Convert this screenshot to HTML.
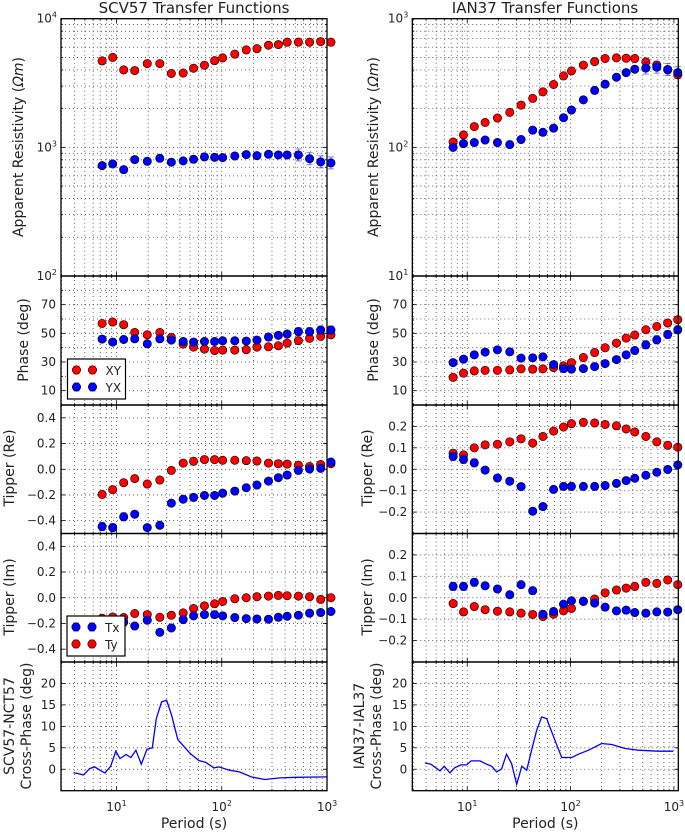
<!DOCTYPE html>
<html><head><meta charset="utf-8"><style>
html,body{margin:0;padding:0;background:#fff;}
svg{display:block;font-family:"DejaVu Sans","Liberation Sans",sans-serif;}
</style></head><body>
<svg id="fig" width="685" height="832" viewBox="0 0 685 832" xmlns="http://www.w3.org/2000/svg"></svg>
<script>
// ---------- data ----------
const periods = [7.3,9.2,11.7,14.9,19.6,25.8,33.2,43,54,68.5,85.5,102,133,171,216,278,345,418,535,683,871,1090];
const scvRhoXY = [4700,5000,4000,3950,4480,4480,3750,3780,4120,4350,4720,4960,5300,5720,5850,6220,6290,6570,6570,6570,6640,6570];
const scvRhoYX = [721,743,671,803,779,822,766,785,808,843,836,832,857,878,862,883,873,873,873,817,771,757];
const scvPhXY = [56.9,57.9,56,50.6,49,50.6,47.1,42.5,40.4,39,38,38.3,38.3,38.6,40.4,40.6,41.3,43.2,44.9,46.5,47.9,49];
const scvPhYX = [46,43.9,45.7,46.2,42.7,46.2,45.3,44.3,43.9,44.3,44.3,44.8,44.8,44.6,45.3,47.4,48.6,49.5,51.2,51.2,52.3,52.3];
const scvReTy = [-0.196,-0.159,-0.105,-0.073,-0.115,-0.084,-0.009,0.048,0.062,0.075,0.075,0.07,0.07,0.067,0.064,0.048,0.043,0.04,0.032,0.021,0.037,0.043];
const scvReTx = [-0.446,-0.454,-0.37,-0.35,-0.454,-0.436,-0.264,-0.233,-0.219,-0.204,-0.204,-0.186,-0.17,-0.144,-0.123,-0.092,-0.066,-0.045,-0.009,0.002,0.007,0.056];
const scvImTy = [-0.16,-0.15,-0.154,-0.123,-0.131,-0.152,-0.136,-0.118,-0.084,-0.063,-0.047,-0.029,-0.008,0,0.008,0.013,0.018,0.016,0.013,0.008,-0.013,0];
const scvImTx = [-0.2,-0.2,-0.19,-0.22,-0.175,-0.269,-0.235,-0.17,-0.141,-0.131,-0.131,-0.141,-0.154,-0.162,-0.165,-0.167,-0.152,-0.144,-0.136,-0.12,-0.115,-0.107];
const ianRhoXY = [110,125,145,156,169,187,213,240,270,308,359,393,436,464,490,496,493,490,462,436,400,366];
const ianRhoYX = [100,107,109,114,109,105,115,136,131,141,170,195,234,277,310,351,381,405,413,420,403,381];
const ianPhXY = [19.3,22.2,23.8,24.2,24.2,24.5,25.2,25,25.2,26.1,27.3,29.6,33.1,36.6,39.9,43.2,46.7,48.8,52.5,54.8,57.2,59.5];
const ianPhYX = [29.6,32,35,36.9,38.5,37.1,32.7,32.9,33.6,28.2,25.4,25,25.4,26.8,28.9,31.7,35,38,42,45.5,49.2,52.5];
const ianReTy = [0.075,0.067,0.1,0.114,0.117,0.128,0.142,0.122,0.153,0.178,0.197,0.213,0.219,0.216,0.209,0.203,0.188,0.174,0.153,0.128,0.112,0.103];
const ianReTx = [0.06,0.046,0.03,-0.004,-0.041,-0.056,-0.081,-0.196,-0.174,-0.094,-0.08,-0.08,-0.08,-0.08,-0.076,-0.066,-0.053,-0.042,-0.028,-0.014,-0.001,0.02];
const ianImTy = [-0.027,-0.066,-0.041,-0.056,-0.063,-0.066,-0.072,-0.078,-0.088,-0.077,-0.061,-0.05,-0.017,-0.006,0.023,0.036,0.045,0.053,0.072,0.067,0.083,0.061];
const ianImTx = [0.053,0.053,0.072,0.056,0.041,0.014,0.061,0.033,-0.077,-0.064,-0.03,-0.014,-0.016,-0.025,-0.044,-0.061,-0.058,-0.069,-0.072,-0.066,-0.067,-0.056];
const scvXpPeriods = [3.9,4.86,5.56,6.21,6.95,7.76,8.81,9.84,10.8,12.3,13.7,15.3,17.2,19.5,21.9,23.9,26.8,29.9,33.4,38.2,43.4,50.2,60.5,70.1,84.5,94.4,118,147,191,256,358,518,1000];
const scvXpValues = [-0.78,-1.32,0.16,0.54,-0.23,-0.86,0.7,4.2,2.49,3.43,2.73,4.44,1.17,4.67,4.98,11.8,15.7,16.1,12.6,6.9,5.4,3.66,2.03,1.64,0.31,0.54,-0.23,-0.62,-1.79,-2.4,-2.02,-1.87,-1.79];
const ianXpPeriods = [3.89,4.45,5.45,5.98,6.79,7.6,8.69,9.86,10.9,13.3,15.4,17.2,19.3,21.5,24.0,26.9,30.1,33.7,37.6,42.0,47.0,52.5,58.7,70.6,82.0,103,119,149,200,250,337,452,706,986];
const ianXpValues = [1.48,1.17,-0.39,0.7,-0.86,0.39,1.01,1.01,1.95,1.95,1.17,0.7,-0.62,0.08,3.5,1.32,-3.5,0.7,-0.23,4.44,9.1,12.2,11.8,6.78,2.73,2.73,3.5,4.44,6.0,5.76,4.83,4.44,4.2,4.2];
const phaseTicks = [10,30,50,70];
const scvTipTicks = [-0.4,-0.2,0.0,0.2,0.4];
const ianTipTicks = [-0.2,-0.1,0.0,0.1,0.2];
const xpTicks = [0,5,10,15,20];

// ---------- helpers ----------
const NS="http://www.w3.org/2000/svg";
const svg=document.getElementById('fig');
function mk(tag,attrs,parent){const e=document.createElementNS(NS,tag);for(const k in attrs)e.setAttribute(k,attrs[k]);(parent||svg).appendChild(e);return e;}
function logScale(d0,d1,p0,p1){const a=Math.log10(d0),b=Math.log10(d1);return v=>p0+(Math.log10(v)-a)/(b-a)*(p1-p0);}
function linScale(d0,d1,p0,p1){return v=>p0+(v-d0)/(d1-d0)*(p1-p0);}
function fmt(v,dec){let s=v.toFixed(dec);if(v<0)s='\u2212'+(-v).toFixed(dec);return s;}

const cols=[
 {x0:61,x1:327,d0:2.97,d1:1000,name:'scv'},
 {x0:412.3,x1:678.3,d0:2.94,d1:1103,name:'ian'}
];
const rows=[{y0:18.7,y1:276},{y0:276,y1:405},{y0:405,y1:533.5},{y0:533.5,y1:662},{y0:662,y1:790.7}];

function xGrid(g,c,row,xs){
  for(let e=0;e<=3;e++)for(let m=1;m<10;m++){const v=m*Math.pow(10,e);if(v<c.d0||v>c.d1)continue;const x=xs(v);
    mk('line',{x1:x,x2:x,y1:row.y0,y2:row.y1,stroke:'#444','stroke-width':0.8,'stroke-dasharray':'1,3'},g);
    const L=m==1?4:2;
    mk('line',{x1:x,x2:x,y1:row.y1,y2:row.y1-L,stroke:'#000','stroke-width':0.8},g);
    mk('line',{x1:x,x2:x,y1:row.y0,y2:row.y0+L,stroke:'#000','stroke-width':0.8},g);}
}
function hGrid(g,c,y,major){
  mk('line',{x1:c.x0,x2:c.x1,y1:y,y2:y,stroke:'#444','stroke-width':0.8,'stroke-dasharray':'1,3'},g);
  const L=major?4:2;
  mk('line',{x1:c.x0,x2:c.x0+L,y1:y,y2:y,stroke:'#000','stroke-width':0.8},g);
  mk('line',{x1:c.x1,x2:c.x1-L,y1:y,y2:y,stroke:'#000','stroke-width':0.8},g);
}
function ylab(g,x,y,txt){const t=mk('text',{x:x,y:y+4,'text-anchor':'end','font-size':12,fill:'#222'},g);t.textContent=txt;return t;}
function powLab(g,x,y,exp,anchor){
  const t=mk('text',{x:x,y:y,'text-anchor':anchor||'end','font-size':12,fill:'#222'},g);
  const a=document.createElementNS(NS,'tspan');a.textContent='10';t.appendChild(a);
  const b=document.createElementNS(NS,'tspan');b.setAttribute('dy',-5);b.setAttribute('font-size',8);b.textContent=exp;t.appendChild(b);
  return t;
}
function marker(g,x,y,color,err){
  if(err){mk('line',{x1:x,x2:x,y1:y-err,y2:y+err,stroke:color,'stroke-width':1,opacity:0.5},g);
    mk('line',{x1:x-3,x2:x+3,y1:y-err,y2:y-err,stroke:color,'stroke-width':1,opacity:0.5},g);
    mk('line',{x1:x-3,x2:x+3,y1:y+err,y2:y+err,stroke:color,'stroke-width':1,opacity:0.5},g);}
  return mk('circle',{cx:x,cy:y,r:4.2,fill:color,stroke:'#000','stroke-width':0.6},g);
}
function frame(g,c,row){mk('rect',{x:c.x0,y:row.y0,width:c.x1-c.x0,height:row.y1-row.y0,fill:'none',stroke:'#000','stroke-width':1.3},g);}
function rotLabel(x,y,lines,name){
  const t=mk('text',{transform:`translate(${x},${y}) rotate(-90)`,'text-anchor':'middle','font-size':14,fill:'#222'});
  
  
  lines.forEach((l,i)=>{const s=document.createElementNS(NS,'tspan');s.setAttribute('x',0);s.setAttribute('dy',i==0?0:17);s.textContent=l;t.appendChild(s);});
  return t;
}

const allData={
 scv:{rho:[scvRhoXY,scvRhoYX],ph:[scvPhXY,scvPhYX],re:[scvReTy,scvReTx],im:[scvImTy,scvImTx],xp:[scvXpPeriods,scvXpValues],rhoD:[100,10000],rhoE:[2,3,4],tipD:[-0.5,0.5],tipT:scvTipTicks},
 ian:{rho:[ianRhoXY,ianRhoYX],ph:[ianPhXY,ianPhYX],re:[ianReTy,ianReTx],im:[ianImTy,ianImTx],xp:[ianXpPeriods,ianXpValues],rhoD:[10,1000],rhoE:[1,2,3],tipD:[-0.3,0.3],tipT:ianTipTicks}
};

cols.forEach((c,ci)=>{
  const D=allData[c.name];
  const xs=logScale(c.d0,c.d1,c.x0,c.x1);
  let g=mk('g',{});
  
  
  let row=rows[0];
  const ysR=logScale(D.rhoD[0],D.rhoD[1],row.y1,row.y0);
  xGrid(g,c,row,xs);
  for(let e=D.rhoE[0];e<D.rhoE[2];e++)for(let m=1;m<10;m++){const v=m*Math.pow(10,e);if(m>1||e>D.rhoE[0])hGrid(g,c,ysR(v),m==1);}
  D.rhoE.forEach(e=>{const t=powLab(g,c.x0-4,ysR(Math.pow(10,e))+4,e);});
  D.rho[0].forEach((v,i)=>{const m=marker(g,xs(periods[i]),ysR(v),'#ff0000',2);});
  D.rho[1].forEach((v,i)=>{const m=marker(g,xs(periods[i]),ysR(v),'#0000ff',i>17?6:2);});
  frame(g,c,row);
  g=mk('g',{});
  
  
  row=rows[1];
  const ysP=linScale(0,90,row.y1,row.y0);
  xGrid(g,c,row,xs);
  for(let v=10;v<90;v+=10)hGrid(g,c,ysP(v),v%20==10);
  phaseTicks.forEach(v=>{const t=ylab(g,c.x0-5,ysP(v),String(v));});
  D.ph[0].forEach((v,i)=>{const m=marker(g,xs(periods[i]),ysP(v),'#ff0000',1.5);});
  D.ph[1].forEach((v,i)=>{const m=marker(g,xs(periods[i]),ysP(v),'#0000ff',i>17?4:1.5);});
  frame(g,c,row);
  [['re',2],['im',3]].forEach(([k,ri])=>{
    g=mk('g',{});
    
    
    row=rows[ri];
    const ys=linScale(D.tipD[0],D.tipD[1],row.y1,row.y0);
    xGrid(g,c,row,xs);
    D.tipT.forEach(v=>{hGrid(g,c,ys(v),true);const t=ylab(g,c.x0-5,ys(v),fmt(v,1));});
    D[k][0].forEach((v,i)=>{const m=marker(g,xs(periods[i]),ys(v),'#ff0000',i<2?3:1);});
    D[k][1].forEach((v,i)=>{const m=marker(g,xs(periods[i]),ys(v),'#0000ff',i<3?4:1);});
    frame(g,c,row);
  });
  g=mk('g',{});
  
  
  row=rows[4];
  const ysX=linScale(-5,25,row.y1,row.y0);
  xGrid(g,c,row,xs);
  xpTicks.forEach(v=>{hGrid(g,c,ysX(v),true);const t=ylab(g,c.x0-5,ysX(v),String(v));});
  const pts=D.xp[0].map((p,i)=>xs(p).toFixed(1)+','+ysX(D.xp[1][i]).toFixed(1)).join(' ');
  const pl=mk('polyline',{points:pts,fill:'none',stroke:'#0000ff','stroke-width':1.3},g);
  
  
  frame(g,c,row);
  [1,2,3].forEach(e=>{const t=powLab(svg,xs(Math.pow(10,e)),811,e,'middle');});
  const xl=mk('text',{x:(c.x0+c.x1)/2,y:828,'text-anchor':'middle','font-size':14,fill:'#222'});
  xl.textContent='Period (s)';
  
  
});

[['SCV57 Transfer Functions',194,'left-title'],['IAN37 Transfer Functions',545,'right-title']].forEach(([s,x,n])=>{
  const t=mk('text',{x:x,y:13,'text-anchor':'middle','font-size':15,fill:'#222'});t.textContent=s;
  
  
});
function rhoLabel(x,name){
  const t=mk('text',{transform:`translate(${x},147) rotate(-90)`,'text-anchor':'middle','font-size':14,fill:'#222'});
  
  
  const a=document.createElementNS(NS,'tspan');a.textContent='Apparent Resistivity (';t.appendChild(a);
  const b=document.createElementNS(NS,'tspan');b.setAttribute('font-style','italic');b.textContent='\u03A9m';t.appendChild(b);
  const c=document.createElementNS(NS,'tspan');c.textContent=')';t.appendChild(c);
}
rhoLabel(23,'rho-axis-title');
rhoLabel(378,'rho-axis-title-right');
rotLabel(28,340,['Phase (deg)'],'phase-axis-title');
rotLabel(378,340,['Phase (deg)'],'phase-axis-title-right');
rotLabel(14,468,['Tipper (Re)'],'tipper-re-axis-title');
rotLabel(372,468,['Tipper (Re)'],'tipper-re-axis-title-right');
rotLabel(14,597,['Tipper (Im)'],'tipper-im-axis-title');
rotLabel(372,597,['Tipper (Im)'],'tipper-im-axis-title-right');
rotLabel(14,726,['SCV57-NCT57','Cross-Phase (deg)'],'cross-phase-axis-title');
rotLabel(364,726,['IAN37-IAL37','Cross-Phase (deg)'],'cross-phase-axis-title-right');

function legend(x,y,entries,name){
  const g=mk('g',{});
  
  
  mk('rect',{x:x,y:y,width:58,height:40,fill:'#fff',stroke:'#000','stroke-width':1.2},g);
  entries.forEach(([lab,col],i)=>{const cy=y+11+i*17;
    marker(g,x+9,cy,col,4);marker(g,x+25,cy,col,4);
    const t=mk('text',{x:x+38,y:cy+5,'font-size':12,fill:'#222'},g);t.textContent=lab;});
}
legend(67.5,359,[['XY','#ff0000'],['YX','#0000ff']],'phase-legend');
legend(67,616,[['Tx','#0000ff'],['Ty','#ff0000']],'tipper-legend');
</script>
</body></html>
